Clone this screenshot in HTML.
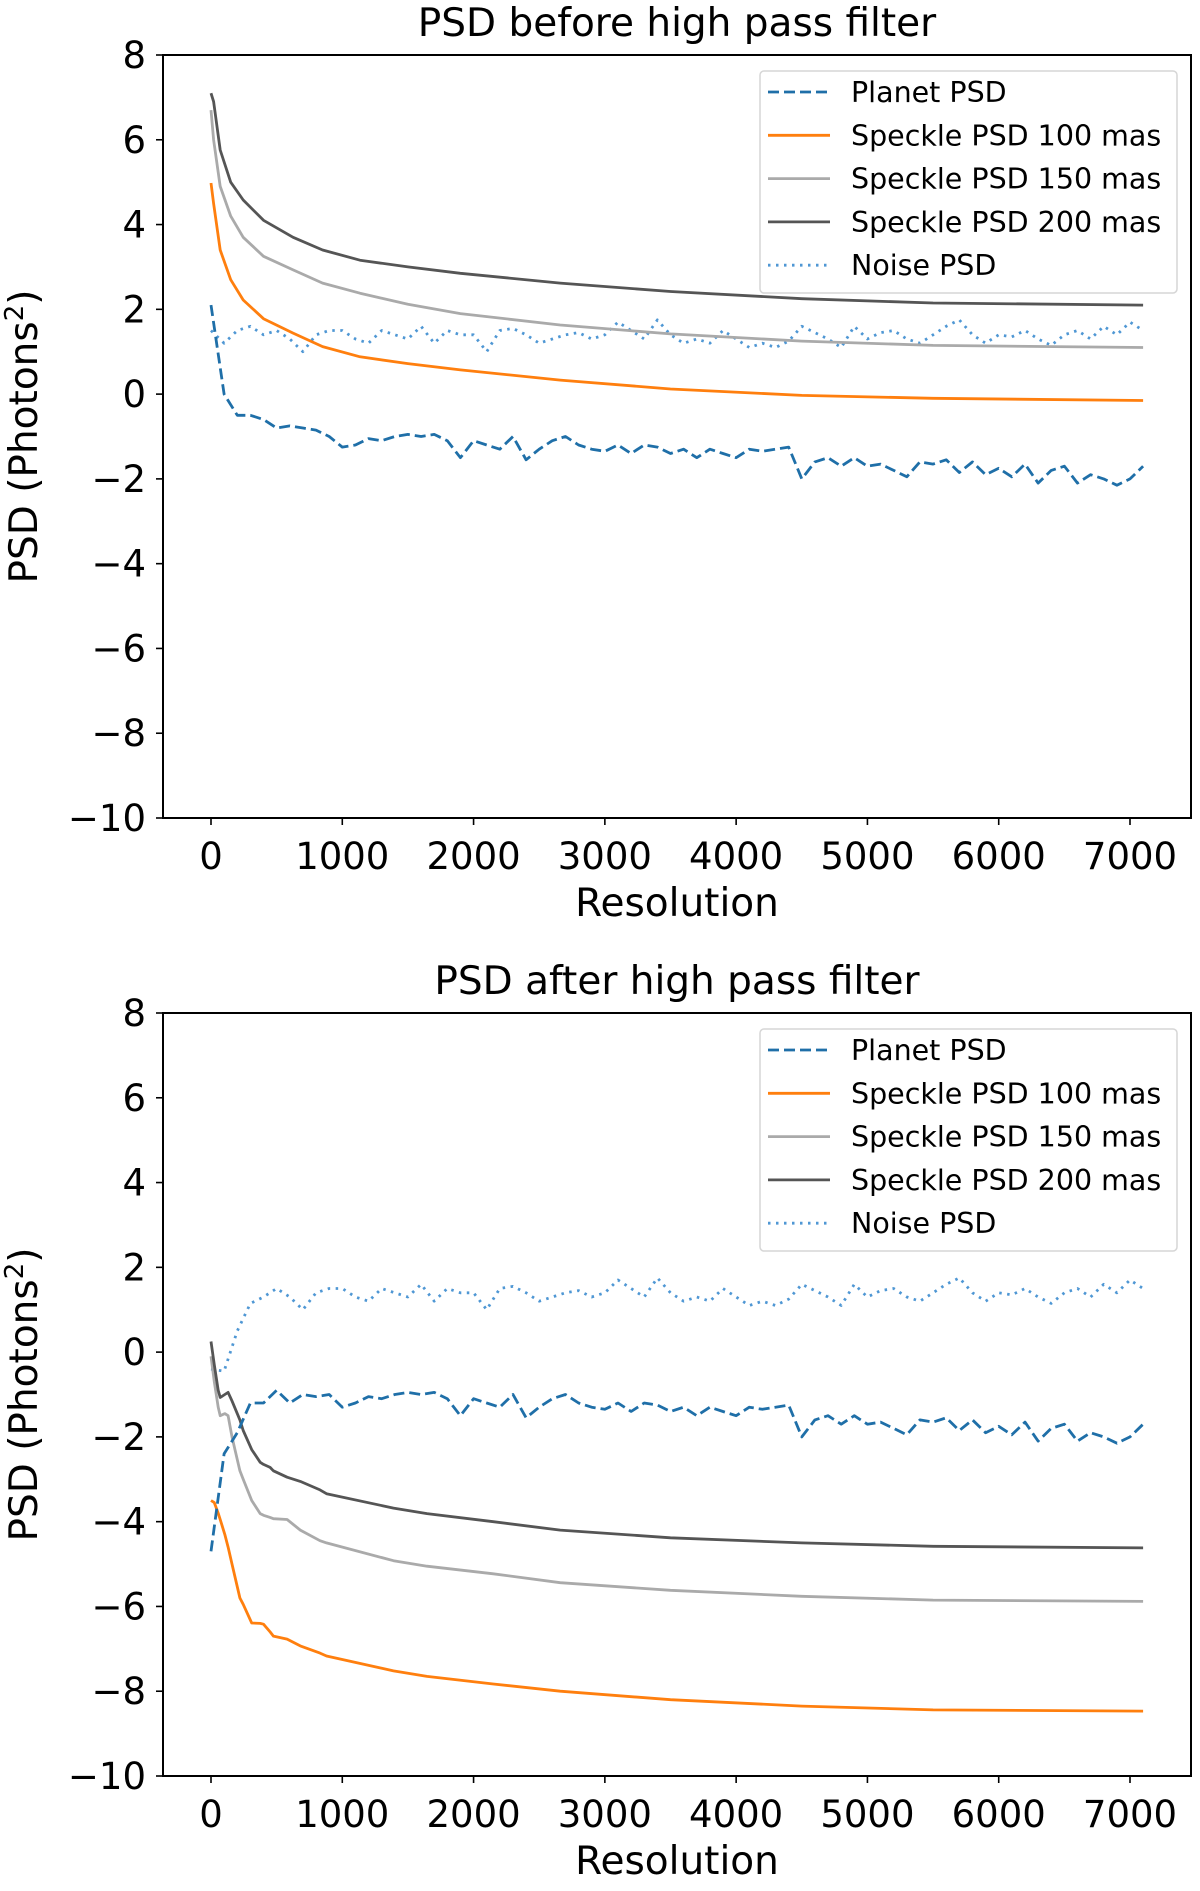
<!DOCTYPE html>
<html><head><meta charset="utf-8"><style>
body{margin:0;background:#fff;}
svg text{font-family:"DejaVu Sans","Liberation Sans",sans-serif;fill:#000;}
</style></head><body>
<svg id="fig" width="1200" height="1886" viewBox="0 0 1200 1886" xmlns="http://www.w3.org/2000/svg"></svg>
<script>
const xTicks=[0,1000,2000,3000,4000,5000,6000,7000];
const yTicks=[8,6,4,2,0,-2,-4,-6,-8,-10];
const seriesNames=["Planet PSD","Speckle PSD 100 mas","Speckle PSD 150 mas","Speckle PSD 200 mas","Noise PSD"];
const speckleXTop=[0,20,70,150,245,400,625,850,1135,1500,1900,2660,3500,4500,5500,7100];
const speckle100Top=[4.98,4.5,3.4,2.7,2.22,1.78,1.44,1.12,0.88,0.72,0.57,0.33,0.12,-0.03,-0.1,-0.15];
const speckle150Top=[6.7,6.0,4.9,4.2,3.7,3.25,2.93,2.62,2.38,2.12,1.9,1.63,1.42,1.25,1.15,1.1];
const speckle200Top=[7.1,6.9,5.76,5.0,4.58,4.1,3.7,3.4,3.16,3.0,2.85,2.62,2.42,2.25,2.15,2.1];
const speckleXBot=[0,25,55,70,105,130,160,220,245,310,375,400,450,475,580,680,830,880,1390,1645,2150,2660,3500,4500,5500,7100];
const speckle100Bot=[-3.5,-3.55,-3.8,-3.95,-4.3,-4.6,-5.0,-5.8,-5.95,-6.39,-6.4,-6.42,-6.6,-6.7,-6.77,-6.93,-7.1,-7.17,-7.52,-7.65,-7.83,-8.0,-8.2,-8.35,-8.44,-8.47];
const speckle150Bot=[-0.1,-0.7,-1.3,-1.5,-1.45,-1.5,-2.0,-2.8,-3.0,-3.5,-3.81,-3.85,-3.9,-3.93,-3.95,-4.2,-4.45,-4.5,-4.92,-5.05,-5.23,-5.44,-5.62,-5.76,-5.85,-5.88];
const speckle200Bot=[0.25,-0.3,-0.9,-1.07,-1.0,-0.95,-1.15,-1.6,-1.85,-2.3,-2.6,-2.65,-2.72,-2.8,-2.95,-3.05,-3.25,-3.34,-3.68,-3.81,-4.0,-4.2,-4.38,-4.5,-4.58,-4.62];
const planetTop=[2.1,0.0,-0.5,-0.5,-0.6,-0.8,-0.75,-0.8,-0.85,-1.0,-1.25,-1.2,-1.05,-1.1,-1.0,-0.95,-1.0,-0.95,-1.1,-1.5,-1.1,-1.2,-1.3,-1.0,-1.55,-1.3,-1.1,-1.0,-1.2,-1.3,-1.35,-1.2,-1.4,-1.2,-1.25,-1.4,-1.3,-1.5,-1.3,-1.4,-1.5,-1.3,-1.35,-1.3,-1.25,-2.0,-1.6,-1.5,-1.7,-1.5,-1.7,-1.65,-1.8,-1.95,-1.6,-1.65,-1.55,-1.85,-1.6,-1.9,-1.75,-1.95,-1.65,-2.1,-1.8,-1.7,-2.1,-1.9,-2.0,-2.15,-2.0,-1.7];
const noiseTop=[1.5,1.2,1.5,1.6,1.4,1.5,1.3,1.0,1.4,1.5,1.5,1.3,1.2,1.5,1.4,1.3,1.6,1.2,1.5,1.4,1.4,1.0,1.5,1.55,1.4,1.2,1.3,1.4,1.45,1.3,1.4,1.7,1.5,1.3,1.75,1.4,1.2,1.3,1.2,1.5,1.3,1.1,1.2,1.1,1.25,1.6,1.45,1.3,1.1,1.6,1.3,1.45,1.5,1.3,1.2,1.4,1.6,1.75,1.4,1.2,1.4,1.35,1.5,1.3,1.15,1.4,1.5,1.3,1.6,1.4,1.7,1.5];
const planetBot=[-4.7,-2.4,-1.9,-1.2,-1.2,-0.9,-1.2,-1.0,-1.05,-1.0,-1.3,-1.2,-1.05,-1.1,-1.0,-0.95,-1.0,-0.95,-1.1,-1.5,-1.1,-1.2,-1.3,-1.0,-1.55,-1.3,-1.1,-1.0,-1.2,-1.3,-1.35,-1.2,-1.4,-1.2,-1.25,-1.4,-1.3,-1.5,-1.3,-1.4,-1.5,-1.3,-1.35,-1.3,-1.25,-2.0,-1.6,-1.5,-1.7,-1.5,-1.7,-1.65,-1.8,-1.95,-1.6,-1.65,-1.55,-1.85,-1.6,-1.9,-1.75,-1.95,-1.65,-2.1,-1.8,-1.7,-2.1,-1.9,-2.0,-2.15,-2.0,-1.7];
const noiseBot=[-0.4,-0.45,0.5,1.15,1.3,1.5,1.3,1.0,1.4,1.5,1.5,1.3,1.2,1.5,1.4,1.3,1.6,1.2,1.5,1.4,1.4,1.0,1.5,1.55,1.4,1.2,1.3,1.4,1.45,1.3,1.4,1.7,1.5,1.3,1.75,1.4,1.2,1.3,1.2,1.5,1.3,1.1,1.2,1.1,1.25,1.6,1.45,1.3,1.1,1.6,1.3,1.45,1.5,1.3,1.2,1.4,1.6,1.75,1.4,1.2,1.4,1.35,1.5,1.3,1.15,1.4,1.5,1.3,1.6,1.4,1.7,1.5];
const noiseStep=100;

const NS="http://www.w3.org/2000/svg";
const svg=document.getElementById('fig');
function mk(tag,attrs,parent){const e=document.createElementNS(NS,tag);for(const k in attrs)e.setAttribute(k,attrs[k]);(parent||svg).appendChild(e);return e;}
const styles=[
 {stroke:"#1f6fa8",dash:"11,5",w:2.8},
 {stroke:"#ff7f0e",dash:"",w:2.8},
 {stroke:"#aaaaaa",dash:"",w:2.8},
 {stroke:"#555555",dash:"",w:2.8},
 {stroke:"#4f97d4",dash:"2.5,5.5",w:2.8}];

function drawPanel(top,title,name,sx,s100,s150,s200,planet,noise){
  const L=163,R=1191,T=top,B=top+763;
  const x=v=>211+(v/7000)*(1130-211);
  const y=v=>T+(8-v)/18*(B-T);
  const g=mk('g',{});
  
  
  const t=mk('text',{x:(L+R)/2,y:T-19,'text-anchor':'middle','font-size':39},g);t.textContent=title;
  
  const gridX=planet.map((_,i)=>i*noiseStep);
  function path(xs,ys,st,nm){
    let d='';xs.forEach((xv,i)=>{d+=(i?'L':'M')+x(xv).toFixed(1)+','+y(ys[i]).toFixed(1);});
    const p=mk('path',{d:d,fill:'none',stroke:st.stroke,'stroke-width':st.w,'stroke-dasharray':st.dash,'stroke-linejoin':'round'},g);
    
    
  }
  path(gridX,noise,styles[4],'noise-psd-line');
  path(sx,s100,styles[1],'speckle-100-line');
  path(sx,s150,styles[2],'speckle-150-line');
  path(sx,s200,styles[3],'speckle-200-line');
  path(gridX,planet,styles[0],'planet-psd-line');
  const fr=mk('rect',{x:L,y:T,width:R-L,height:B-T,fill:'none',stroke:'#000','stroke-width':2},g);
  
  yTicks.forEach(v=>{
    mk('line',{x1:L-7,x2:L,y1:y(v),y2:y(v),stroke:'#000','stroke-width':1.6},g);
    const tx=mk('text',{x:L-17,y:y(v)+13,'text-anchor':'end','font-size':37},g);
    tx.textContent=(v<0?'\u2212'+(-v):v);
    
  });
  xTicks.forEach(v=>{
    mk('line',{x1:x(v),x2:x(v),y1:B,y2:B+7,stroke:'#000','stroke-width':1.6},g);
    const tx=mk('text',{x:x(v),y:B+51,'text-anchor':'middle','font-size':37},g);
    tx.textContent=v;
    
  });
  const xl=mk('text',{x:(L+R)/2,y:B+98,'text-anchor':'middle','font-size':39},g);xl.textContent='Resolution';
  
  const yl=mk('text',{x:0,y:0,'text-anchor':'middle','font-size':39,transform:`translate(37,${(T+B)/2}) rotate(-90)`},g);
  yl.innerHTML='PSD (Photons<tspan dy="-14" font-size="26">2</tspan><tspan dy="14">)</tspan>';
  
  const lg=mk('g',{},g);
  
  mk('rect',{x:760,y:T+16,width:417,height:222,rx:4,fill:'#fff',stroke:'#d6d6d6','stroke-width':1.5},lg);
  seriesNames.forEach((n,i)=>{
    const cy=T+37+i*43.3;
    const st=styles[i];
    mk('line',{x1:768,x2:830,y1:cy,y2:cy,stroke:st.stroke,'stroke-width':st.w,'stroke-dasharray':st.dash},lg);
    const tx=mk('text',{x:851,y:cy+10,'font-size':28.5,fill:'#222'},lg);tx.textContent=n;
    
  });
}
drawPanel(55,'PSD before high pass filter','top-chart',speckleXTop,speckle100Top,speckle150Top,speckle200Top,planetTop,noiseTop);
drawPanel(1013,'PSD after high pass filter','bottom-chart',speckleXBot,speckle100Bot,speckle150Bot,speckle200Bot,planetBot,noiseBot);
</script>
</body></html>
